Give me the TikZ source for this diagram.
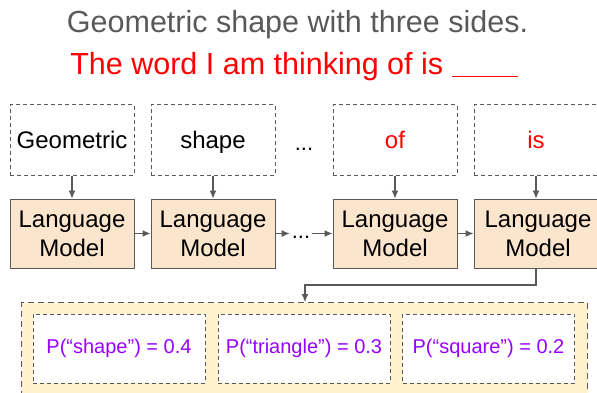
\documentclass[tikz,border=0pt]{standalone}
\usepackage{fontspec}
\setmainfont{Liberation Sans}
\usetikzlibrary{arrows.meta}
\definecolor{dgray}{HTML}{595959}
\definecolor{peach}{HTML}{FCE5CD}
\definecolor{lyellow}{HTML}{FFF2CC}
\definecolor{gred}{HTML}{FF0000}
\definecolor{gpurple}{HTML}{9900FF}
\tikzset{
  wordbox/.style={draw=dgray, dash pattern=on 4pt off 3pt, line width=1pt, fill=white,
    minimum width=124pt, minimum height=70pt, inner sep=0pt, text height=18pt, text depth=0pt,
    font=\fontsize{24}{28}\selectfont},
  lmbox/.style={draw=dgray, line width=1pt, fill=peach, minimum width=124pt, minimum height=69pt,
    inner sep=0pt, align=center, font=\fontsize{24}{29}\selectfont},
  probbox/.style={draw=dgray, dash pattern=on 4pt off 3pt, line width=1pt, fill=white,
    minimum width=172pt, minimum height=69pt, inner sep=0pt, text=gpurple, font=\fontsize{20}{24}\selectfont},
  conn/.style={draw=dgray, line width=1.1pt, -{Latex[length=8pt,width=7pt]}},
  dotsty/.style={inner sep=0pt, font=\fontsize{22}{26}\selectfont}
}
\begin{document}
\begin{tikzpicture}[x=1pt,y=-1pt]
\useasboundingbox (0,0) rectangle (597,393);
\clip (0,0) rectangle (597,393);
% titles
\node[text=dgray, font=\fontsize{30.5}{36}\selectfont, anchor=base] (t1) at (297.5,33) {Geometric shape with three sides.};
\node[text=gred, font=\fontsize{30.5}{36}\selectfont, anchor=base] (t2) at (294,75) {The word I am thinking of is \underline{\hspace{66pt}}};
% word boxes
\node[wordbox] (w1) at (72,140) {Geometric};
\node[wordbox] (w2) at (213,140) {shape};
\node[dotsty, anchor=base] (d1) at (304,150) {...};
\node[wordbox, text=gred] (w3) at (395,140) {of};
\node[wordbox, text=gred] (w4) at (536,140) {is};
% LM boxes
\node[lmbox] (m1) at (72,233.5) {Language\\Model};
\node[lmbox] (m2) at (213,233.5) {Language\\Model};
\node[dotsty] (d2) at (301,237) {...};
\node[lmbox] (m3) at (395,233.5) {Language\\Model};
\node[lmbox, minimum width=128pt, text width=124pt] (m4) at (538,233.5) {Language\\Model};
% arrows
\draw[conn] (w1) -- (m1);
\draw[conn] (w2) -- (m2);
\draw[conn] (w3) -- (m3);
\draw[conn] (w4.south) -- (w4.south |- m4.north);
\draw[conn] (m1) -- (m2);
\draw[conn] (m2.east) -- ([xshift=-2pt]d2.west |- m2.east);
\draw[conn] ([xshift=2pt]d2.east |- m3.west) -- (m3.west);
\draw[conn] (m3) -- (m4);
% output container
\node[draw=dgray, dash pattern=on 6pt off 4pt, line width=1pt, fill=lyellow, minimum width=566pt,
  minimum height=110pt, inner sep=0pt, anchor=north west] (out) at (21,302) {};
\node[probbox] (p1) at (119,348.5) {P(“shape”) = 0.4};
\node[probbox] (p2) at (304,348.5) {P(“triangle”) = 0.3};
\node[probbox] (p3) at (488.5,348.5) {P(“square”) = 0.2};
\coordinate (top4) at (w4.south |- m4.south);
\coordinate (bend1) at (w4.south |- 0,285);
\coordinate (bend2) at (305,285);
\draw[conn] (top4) -- (bend1) -- (bend2) -- (bend2 |- out.north);
% cover right edge of the last word box so it runs off the picture
\fill[white] (597.4,104) rectangle (600,176);
\end{tikzpicture}
\end{document}
